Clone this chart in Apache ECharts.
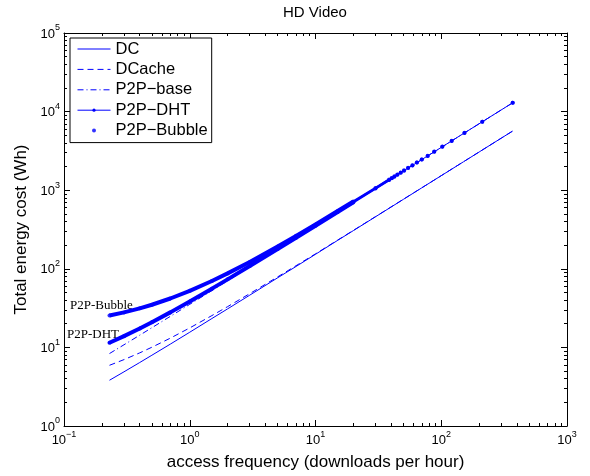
<!DOCTYPE html>
<html>
<head>
<meta charset="utf-8">
<script src="https://cdn.jsdelivr.net/npm/echarts@6/dist/echarts.min.js"></script>
<style>
html,body{margin:0;padding:0;background:#fff;}
#c{width:590px;height:476px;}
</style>
</head>
<body>
<div id="c"></div>
<script>
// ---- data ----
const xs = [0.23, 0.3, 0.4, 0.5, 0.7, 1, 1.5, 2, 3, 5, 7, 10, 15, 20, 30, 50, 70, 100, 150, 200, 300, 370];
const dcValues = [3.82, 4.89, 6.42, 7.95, 11.0, 15.6, 23.3, 30.9, 46.2, 76.8, 107, 153, 230, 306, 459, 765, 1071, 1530, 2295, 3060, 4590, 5661];
const dcacheValues = [5.92, 6.99, 8.52, 10.05, 13.1, 17.7, 25.4, 33.0, 48.3, 78.9, 109.5, 155, 232, 308, 461, 767, 1073, 1532, 2297, 3062, 4592, 5663];
const p2pBaseValues = [8.35, 10.8, 14.3, 17.8, 24.8, 35.3, 52.8, 70.3, 105.3, 175.3, 245.3, 350.3, 525.3, 700.3, 1050, 1750, 2450, 3500, 5250, 7000, 10500, 12950];

const p2pXs = [0.23, 0.3, 0.4, 0.5, 0.7, 1, 1.5, 2, 3, 5, 7, 10, 15, 20, 30, 38.5, 40.4, 42.4, 44.8, 47.6, 50.6, 54.5, 59, 64, 70, 78, 88, 102, 121, 153, 212, 370];
const p2pDhtValues = [11.45, 13.9, 17.4, 20.9, 27.9, 38.4, 55.9, 73.4, 108.4, 178.4, 248.4, 353.4, 528.4, 703.4, 1053, 1351, 1417, 1487, 1571, 1669, 1774, 1911, 2068, 2243, 2453, 2733, 3083, 3573, 4238, 5358, 7423, 12953];
const p2pBubbleValues = [25.45, 27.9, 31.4, 34.9, 41.9, 52.4, 69.9, 87.4, 122.4, 192.4, 262.4, 367.4, 542.4, 717.4, 1067, 1365, 1431, 1501, 1585, 1683, 1788, 1925, 2082, 2257, 2467, 2747, 3097, 3587, 4252, 5372, 7437, 12967];

const seriesNames = ['DC', 'DCache', 'P2P\u2212base', 'P2P\u2212DHT', 'P2P\u2212Bubble'];
const xTickExps = ['\u22121', '0', '1', '2', '3'];   // 10^-1 .. 10^3
const yTickExps = ['0', '1', '2', '3', '4', '5'];   // 10^0 .. 10^5
const annotations = ['P2P-Bubble', 'P2P-DHT'];

// ---- build ----
const BLUE = '#0000ff';
const zip = (a, b) => a.map((v, i) => [v, b[i]]);
const dense = 14;   // boundary of the part where markers overlap into a thick stroke

const chart = echarts.init(document.getElementById('c'), null, {renderer: 'canvas'});

const tickRich = {
  b: {fontFamily: 'Liberation Sans', fontSize: 13, color: '#000', verticalAlign: 'bottom', lineHeight: 15},
  s: {fontFamily: 'Liberation Sans', fontSize: 9, color: '#000', verticalAlign: 'bottom', padding: [0, 0, 8, 0], lineHeight: 10}
};

function axisCommon() {
  return {
    axisLine: {show: true, onZero: false, lineStyle: {color: '#000', width: 1}},
    axisTick: {show: true, inside: true, length: 6, lineStyle: {color: '#000'}},
    minorTick: {show: true, splitNumber: 9, length: 3, lineStyle: {color: '#000'}},
    splitLine: {show: false},
    minorSplitLine: {show: false}
  };
}

const hideSym = {opacity: 0};
const option = {
  animation: false,
  backgroundColor: '#fff',
  title: {
    text: 'HD Video',
    left: 315, top: 0, textAlign: 'center', padding: [5, 0, 0, 0],
    textStyle: {fontFamily: 'Liberation Sans', fontSize: 15, fontWeight: 'normal', color: '#000'}
  },
  grid: {left: 64, right: 23, top: 33, bottom: 47, containLabel: false},
  legend: {
    data: [
      {name: seriesNames[0], itemStyle: hideSym},
      {name: seriesNames[1], itemStyle: hideSym},
      {name: seriesNames[2], itemStyle: hideSym},
      {name: seriesNames[3]},
      {name: seriesNames[4]}
    ],
    orient: 'vertical',
    left: 70, top: 38,
    itemWidth: 33, itemHeight: 4, itemGap: 0.4,
    padding: [1, 4, 2, 7],
    borderColor: '#000', borderWidth: 1, backgroundColor: '#fff',
    lineStyle: {width: 1},
    textStyle: {fontFamily: 'Liberation Sans', fontSize: 16.5, color: '#000', lineHeight: 20},
    selectedMode: false
  },
  xAxis: [
    Object.assign({
      type: 'log', logBase: 10, min: 0.1, max: 1000, position: 'bottom',
      name: 'access frequency (downloads per hour)', nameLocation: 'middle', nameGap: 28,
      nameTextStyle: {fontFamily: 'Liberation Sans', fontSize: 17, color: '#000'},
      axisLabel: {
        show: true, margin: 6,
        formatter: v => '{b|10}{s|' + xTickExps[Math.round(Math.log10(v)) + 1] + '}',
        rich: tickRich
      }
    }, axisCommon()),
    Object.assign({
      type: 'log', logBase: 10, min: 0.1, max: 1000, position: 'top',
      axisLabel: {show: false}
    }, axisCommon())
  ],
  yAxis: [
    Object.assign({
      type: 'log', logBase: 10, min: 1, max: 100000, position: 'left',
      name: 'Total energy cost (Wh)', nameLocation: 'middle', nameGap: 33,
      nameTextStyle: {fontFamily: 'Liberation Sans', fontSize: 17, color: '#000'},
      axisLabel: {
        show: true, margin: 4,
        formatter: v => '{b|10}{s|' + yTickExps[Math.round(Math.log10(v))] + '}',
        rich: tickRich
      }
    }, axisCommon()),
    Object.assign({
      type: 'log', logBase: 10, min: 1, max: 100000, position: 'right',
      axisLabel: {show: false}
    }, axisCommon())
  ],
  series: [
    {name: seriesNames[0], type: 'line', data: zip(xs, dcValues), symbol: 'none',
     lineStyle: {color: BLUE, width: 1, type: 'solid'}, itemStyle: {color: BLUE}},
    {name: seriesNames[1], type: 'line', data: zip(xs, dcacheValues), symbol: 'none',
     lineStyle: {color: BLUE, width: 1, type: [6, 4]}, itemStyle: {color: BLUE}},
    {name: seriesNames[2], type: 'line', data: zip(xs, p2pBaseValues), symbol: 'none',
     lineStyle: {color: BLUE, width: 1, type: [6, 3, 1, 3]}, itemStyle: {color: BLUE}},
    {name: seriesNames[3], type: 'line', data: zip(p2pXs, p2pDhtValues), symbol: 'circle', symbolSize: 4,
     showAllSymbol: true,
     lineStyle: {color: BLUE, width: 1}, itemStyle: {color: BLUE}},
    {name: seriesNames[4], type: 'scatter', data: zip(p2pXs, p2pBubbleValues), symbol: 'circle', symbolSize: 4,
     itemStyle: {color: BLUE}},
    // dense-marker parts (markers overlap into a thick stroke)
    {name: 'dht-dense', type: 'line', silent: true, symbol: 'none',
     data: zip(p2pXs, p2pDhtValues).slice(0, dense), lineStyle: {color: BLUE, width: 4}},
    {name: 'dht-mid', type: 'line', silent: true, symbol: 'none',
     data: zip(p2pXs, p2pDhtValues).slice(dense - 1, dense + 2), lineStyle: {color: BLUE, width: 2.5}},
    {name: 'bubble-dense', type: 'line', silent: true, symbol: 'none',
     data: zip(p2pXs, p2pBubbleValues).slice(0, dense), lineStyle: {color: BLUE, width: 4}},
    {name: 'bubble-mid', type: 'line', silent: true, symbol: 'none',
     data: zip(p2pXs, p2pBubbleValues).slice(dense - 1, dense + 2), lineStyle: {color: BLUE, width: 2.5}}
  ],
  graphic: [
    {type: 'text', left: 70, top: 299, style: {text: annotations[0], font: '13px "Liberation Serif"', fill: '#000'}},
    {type: 'text', left: 67, top: 328, style: {text: annotations[1], font: '13px "Liberation Serif"', fill: '#000'}}
  ]
};
chart.setOption(option);
</script>
</body>
</html>
